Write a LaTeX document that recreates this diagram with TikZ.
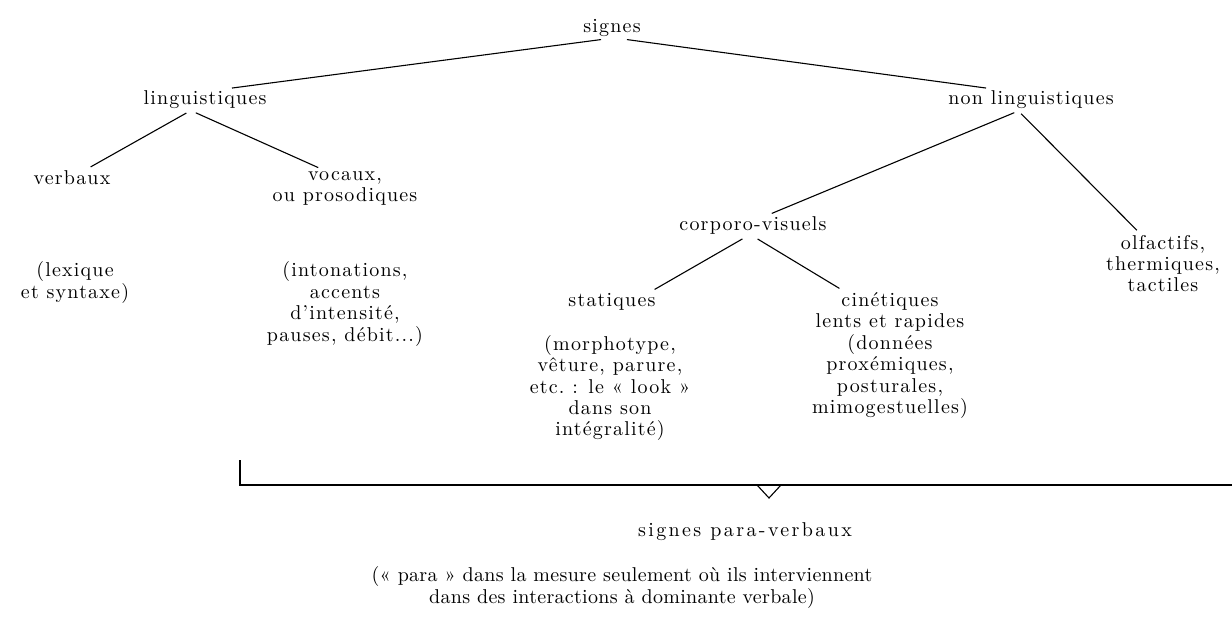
\documentclass[tikz,border=0pt]{standalone}
\usepackage{fontspec}
\setmainfont{Latin Modern Roman}[LetterSpace=6]

\begin{document}
\begin{tikzpicture}[x=0.5pt,y=-0.5pt,line width=0.55pt,
  lbl/.style={align=center, inner sep=1pt, font=\fontsize{10}{10.7}\selectfont},
  branch/.style={shorten <=1.5pt, shorten >=1.5pt}]
\useasboundingbox (0,0) rectangle (1232,620);
\node[lbl] (signes) at (612,28) {signes};
\node[lbl] (ling) at (205,100) {linguistiques};
\node[lbl] (nonling) at (1031,100) {non linguistiques};
\node[lbl] (verbaux) at (72,178) {verbaux};
\node[lbl] (vocaux) at (345,188.5) {vocaux,\\ou prosodiques};
\node[lbl] (corpo) at (753,226) {corporo-visuels};
\node[lbl] (olf) at (1163,263.5) {olfactifs,\\thermiques,\\tactiles};
\node[lbl] (lexique) at (75,282.5) {(lexique\\et syntaxe)};
\node[lbl] (inton) at (345,304) {(intonations,\\accents\\d’intensité,\\pauses, débit...)};
\node[lbl] (stat) at (612,302) {statiques};
\node[lbl] (statdesc) at (610,388) {(morphotype,\\vêture, parure,\\etc.~: le «~look~»\\dans son\\intégralité)};
\node[lbl] (cinet) at (890,355.5) {cinétiques\\lents et rapides\\(données\\proxémiques,\\posturales,\\mimogestuelles)};
\node[lbl, font=\fontsize{10}{10.7}\selectfont\addfontfeatures{LetterSpace=12}] (para) at (745,532) {signes para-verbaux};
\node[lbl, font=\fontsize{10}{11}\selectfont\addfontfeatures{LetterSpace=1.5}] (note) at (622,587) {(«~para~» dans la mesure seulement où ils interviennent\\dans des interactions à dominante verbale)};

\draw[branch] ([xshift=-4pt]signes.south) -- ([xshift=12pt]ling.north);
\draw[branch] ([xshift=6pt]signes.south) -- ([xshift=-21pt]nonling.north);
\draw[branch] ([xshift=-8pt]ling.south) -- ([xshift=8pt]verbaux.north);
\draw[branch] ([xshift=-6pt]ling.south) -- ([xshift=-12pt]vocaux.north);
\draw[branch] ([xshift=-7pt]nonling.south) -- ([xshift=8pt]corpo.north);
\draw[branch] ([xshift=-6pt]nonling.south) -- ([xshift=-12pt]olf.north);
\draw[branch] ([xshift=-4pt]corpo.south) -- ([xshift=20pt]stat.north);
\draw[branch] ([xshift=1pt]corpo.south) -- ([xshift=-24pt]cinet.north);

\coordinate (bl) at (240,460);
\coordinate (bc) at (240,485);
\coordinate (br) at (1232,485);
\coordinate (tl) at (757,485);
\coordinate (tr) at (781,485);
\coordinate (tip) at (769,498);
\draw[semithick] (bl) -- (bc) -- (br);
\draw (tl) -- (tip) -- (tr);
\end{tikzpicture}
\end{document}
